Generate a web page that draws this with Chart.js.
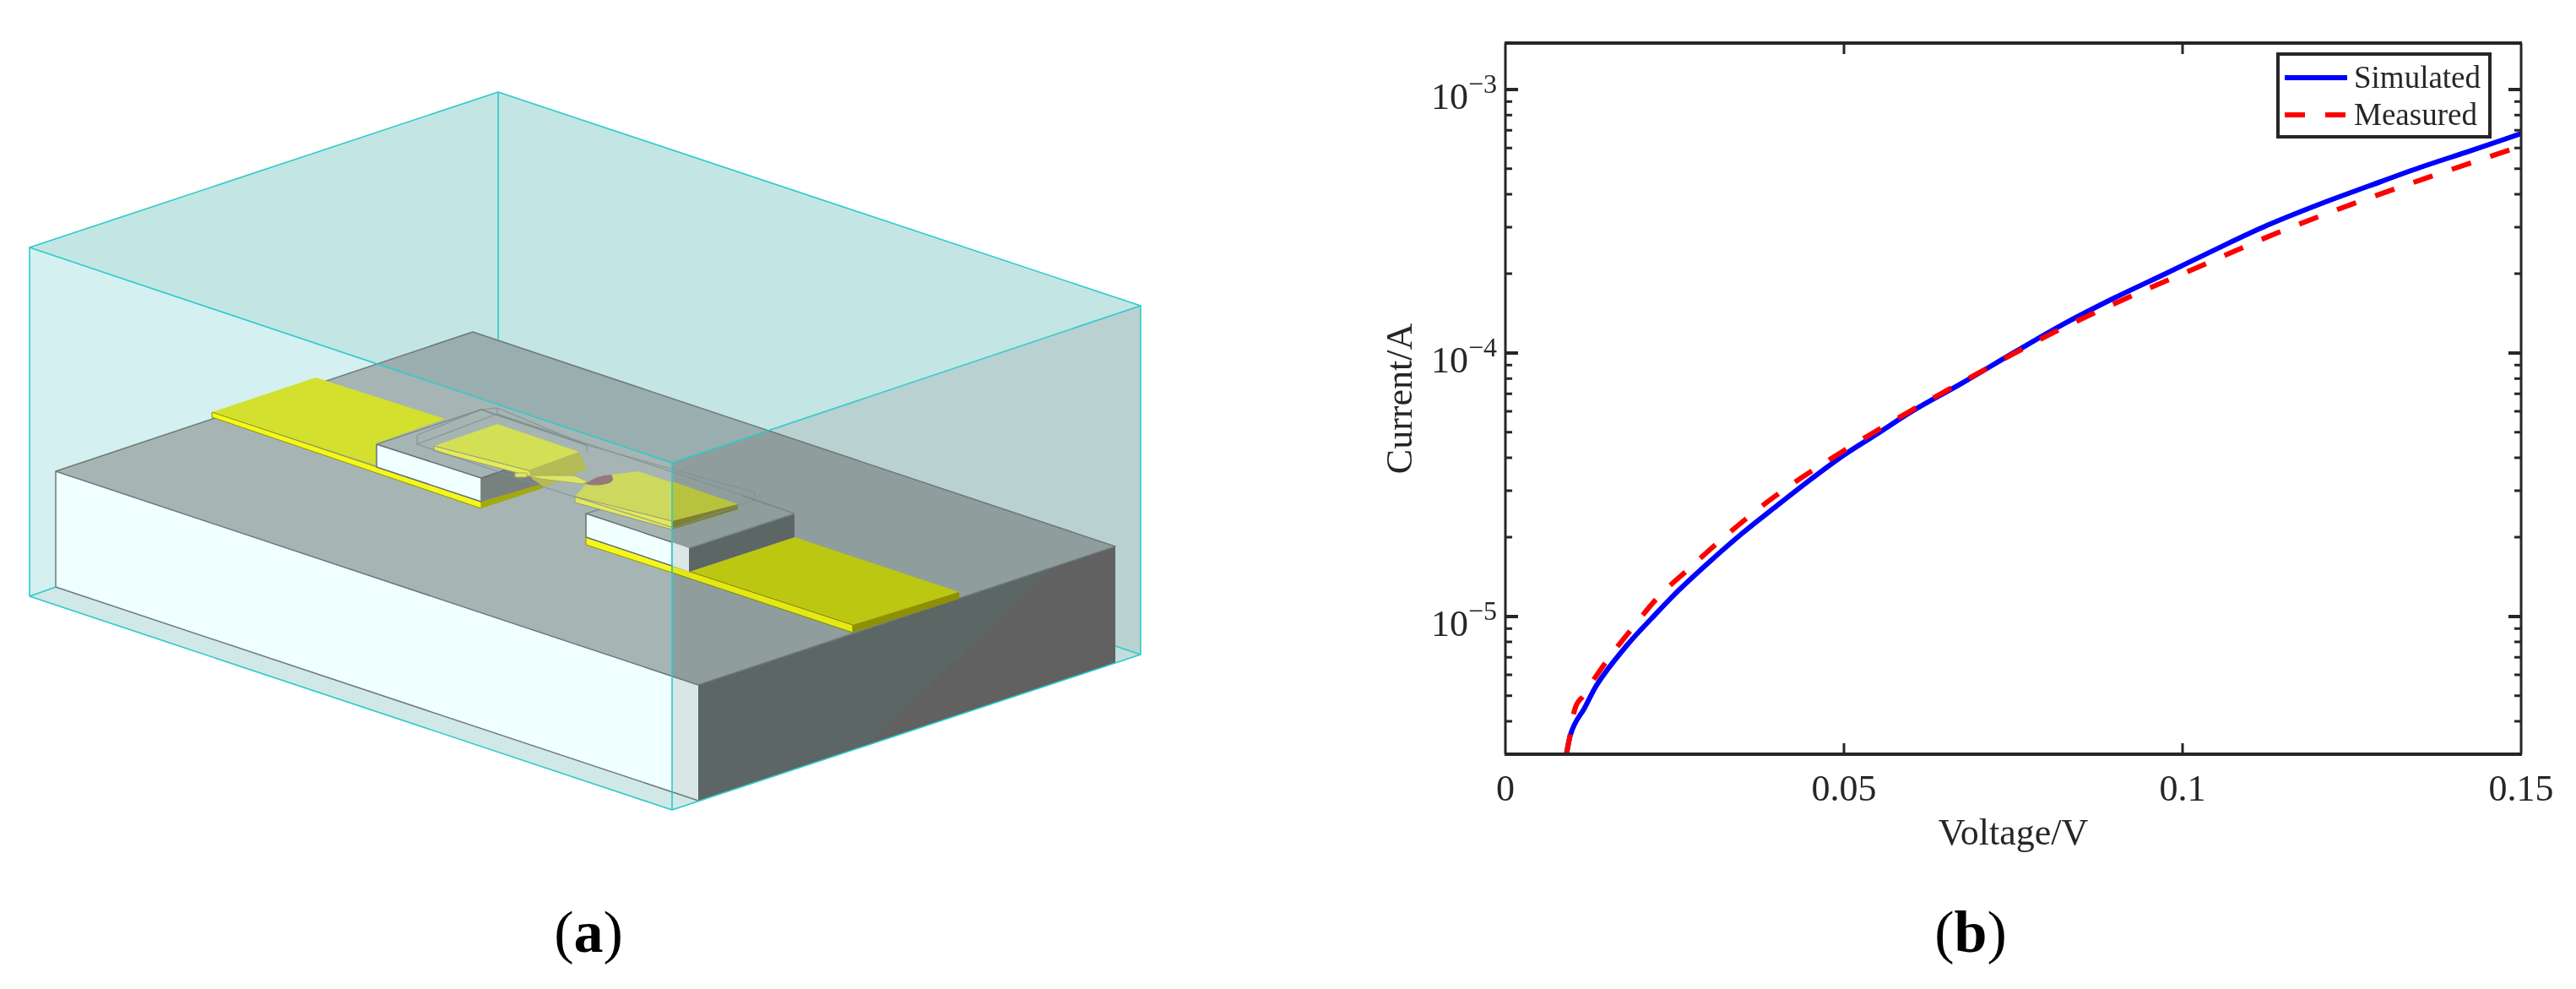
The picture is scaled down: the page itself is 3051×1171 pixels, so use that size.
<!DOCTYPE html>
<html>
<head>
<meta charset="utf-8">
<title>Simulated and measured I-V curve</title>
<script src="https://cdn.jsdelivr.net/npm/chart.js@4"></script>
<style>
  html, body { margin: 0; padding: 0; background: #fff; overflow: hidden; }
  #page { position: relative; width: 3051px; height: 1171px; }
  #model { position: absolute; left: 0; top: 0; }
  #chartBox { position: absolute; left: 1600px; top: 0; width: 1451px; height: 1171px; }
  .panel { position: absolute; font: 70px/1 "Liberation Serif", serif; color: #000; transform: translateX(-50%); }
</style>
</head>
<body>
<div id="page">
  <!-- panel (a): device model, plain illustration -->
  <svg id="model" width="1500" height="1000" stroke-linejoin="round">
    <!-- air box -->
    <polygon points="590,109 35,293 796,548 1351,362" fill="#c3e5e4"/>
    <polygon points="35,293 796,548 796,959 35,706" fill="#d5f0f0"/>
    <polygon points="796,548 1351,362 1351,775 796,959" fill="#b9d1d1"/>
    <polygon points="66,695 827,948 796,959 35,706" fill="#d0e8e8"/>
    <polygon points="1321,785 1351,775 1321,765" fill="#c3dcdc"/>

    <!-- substrate -->
    <polygon points="446,431 560,393 910,510 796,548" fill="#9aaeb0"/>
    <polygon points="66,558 446,431 796,548 796,801" fill="#a6b5b3"/>
    <polygon points="796,548 910,510 1321,647 827,811 796,801" fill="#8f9e9c"/>
    <polygon points="66,558 796,801 796,938 66,695" fill="#f0ffff"/>
    <polygon points="796,801 827,811 827,948 796,938" fill="#d8e6e6"/>
    <polygon points="827,811 1321,647 1321,785 827,948" fill="#5b6665"/>
    <polygon points="1250,671 1321,647 1321,785 1027,882" fill="#616161"/>
    <polyline points="66,695 66,558 560,393 1321,647 827,811 66,558" fill="none" stroke="#6d7a78" stroke-width="1.5"/>
    <line x1="66" y1="695" x2="827" y2="948" stroke="#6d7a78" stroke-width="1.5"/>

    <!-- left gold line and pedestal -->
    <polygon points="251,488 374,447 527,496 446,525 446,551" fill="#d3e02e"/>
    <polygon points="251,488 570,594 570,602 251,494" fill="#f4f71e" stroke="#8f9400" stroke-width="1"/>
    <polygon points="570,594 643,572 643,578 570,602" fill="#a5a80e"/>
    <polygon points="446,526 570,566 570,594 446,553" fill="#f0ffff" stroke="#66716f" stroke-width="1.5"/>
    <polygon points="570,566 608,553 645,566 645,572 570,594" fill="#77827f"/>
    <polyline points="446,526 570,485 695,527" fill="none" stroke="#7c8a8a" stroke-width="1.5"/>
    <line x1="570" y1="566" x2="608" y2="553" stroke="#66716f" stroke-width="1.5"/>

    <!-- right gold line and pedestal -->
    <polygon points="817,677 941,636 1136,701 1010,740" fill="#bcc712"/>
    <polygon points="1010,740 1136,701 1136,709 1010,749" fill="#8f9000"/>
    <polygon points="694,636 796,670 796,678 694,645" fill="#f4f71e" stroke="#8f9400" stroke-width="1"/>
    <polygon points="796,670 1010,740 1010,749 796,678" fill="#e3e816" stroke="#808600" stroke-width="1"/>
    <polygon points="694,608 796,642 796,670 694,636" fill="#f0ffff" stroke="#66716f" stroke-width="1.5"/>
    <polygon points="796,642 816,649 816,677 796,670" fill="#dde6e6"/>
    <polygon points="816,649 941,608 941,636 816,677" fill="#5b6665"/>
    <polyline points="694,608 714,602" fill="none" stroke="#7c8a8a" stroke-width="1.5"/>
    <polyline points="816,649 941,608 880,587" fill="none" stroke="#78878a" stroke-width="1.5"/>

    <!-- electrodes and channel -->
    <polygon points="514,528 589,502 686,535 626,557" fill="#d3df55"/>
    <polygon points="514,528 626,557 632,565 514,534" fill="#e6ea55" stroke="#8d9a80" stroke-width="1"/>
    <polygon points="626,557 686,535 695,555 645,577 630,567" fill="#b5bb55"/>
    <polygon points="610,560 624,560 624,565 610,565" fill="#dfe66a" stroke="#a9ae55" stroke-width="1"/>
    <polygon points="624,563 680,563 696,570 690,573 640,567" fill="#dfe46a" stroke="#a9ae55" stroke-width="1"/>
    <polygon points="681,588 695,572 725,562 756,558 874,597 796,617 796,627" fill="#cdd85f"/>
    <polygon points="796,570 874,597 796,617" fill="#b9c23f"/>
    <polygon points="796,617 874,597 874,603 796,627" fill="#7d8030"/>
    <polygon points="681,588 796,617 796,627 681,595" fill="#e4e85a" stroke="#8d9a80" stroke-width="1"/>
    <path d="M693,573 Q708,562 724,562 Q730,570 718,573 Q705,576 693,573 Z" fill="#96787c"/>

    <!-- dielectric outline -->
    <g fill="none" stroke="#7e8f95" stroke-width="1.2" opacity="0.8">
      <polyline points="494,515 570,485 589,483 695,527 695,535"/>
      <polyline points="494,515 494,526 645,577 798,625 894,592 894,583"/>
      <line x1="589" y1="483" x2="589" y2="490"/>
      <line x1="494" y1="526" x2="589" y2="490"/>
      <line x1="589" y1="490" x2="890" y2="590"/>
      <line x1="695" y1="527" x2="894" y2="583"/>
    </g>

    <!-- air box edges -->
    <g fill="none" stroke="#2ccbcb" stroke-width="1.6">
      <polygon points="590,109 35,293 796,548 1351,362"/>
      <line x1="590" y1="109" x2="590" y2="402"/>
      <line x1="35" y1="293" x2="35" y2="706"/>
      <line x1="796" y1="548" x2="796" y2="959"/>
      <line x1="1351" y1="362" x2="1351" y2="775"/>
      <polyline points="35,706 796,959 1351,775"/>
      <line x1="35" y1="706" x2="66" y2="695"/>
      <line x1="1321" y1="765" x2="1351" y2="775"/>
    </g>
  </svg>
  <div class="panel" style="left:697px; top:1069px;">(<b>a</b>)</div>
  <div class="panel" style="left:2334px; top:1069px;">(<b>b</b>)</div>
  <div id="chartBox"><canvas id="myChart" width="1451" height="1171"></canvas></div>
</div>

<script>
const ctx = document.getElementById('myChart').getContext('2d');

const FONT = '"Liberation Serif", serif';
const INK = '#262626';

const simVoltage = [0.009, 0.0096, 0.0117, 0.0135, 0.018, 0.0217, 0.0255, 0.03, 0.035, 0.04, 0.045, 0.05, 0.055, 0.06, 0.0675, 0.075, 0.0825, 0.09, 0.0975, 0.105, 0.1125, 0.12, 0.1275, 0.135, 0.1425, 0.15];
const simCurrent = [3e-6, 3.55e-6, 4.5e-6, 5.5e-6, 7.8e-6, 9.9e-6, 1.25e-5, 1.6e-5, 2.07e-5, 2.62e-5, 3.3e-5, 4.1e-5, 4.95e-5, 6e-5, 7.7e-5, 1e-4, 1.29e-4, 1.62e-4, 2e-4, 2.48e-4, 3.05e-4, 3.65e-4, 4.3e-4, 5.05e-4, 5.85e-4, 6.8e-4];

const measVoltage = [0.009, 0.0096, 0.0102, 0.0115, 0.0149, 0.0187, 0.0225, 0.027, 0.0314, 0.0395, 0.0496, 0.0597, 0.0706, 0.0811, 0.0914, 0.1029, 0.1139, 0.1254, 0.1364, 0.15];
const measCurrent = [3e-6, 3.6e-6, 4.4e-6, 5e-6, 6.75e-6, 9e-6, 1.18e-5, 1.51e-5, 1.91e-5, 2.82e-5, 4.2e-5, 6e-5, 8.6e-5, 1.2e-4, 1.6e-4, 2.15e-4, 2.85e-4, 3.7e-4, 4.65e-4, 6.1e-4];

const xTicks = [0, 0.05, 0.1, 0.15];
const xTickLabels = ['0', '0.05', '0.1', '0.15'];
const yMajorTicks = [1e-5, 1e-4, 1e-3];
const yMajorExponents = ['-5', '-4', '-3'];
const yMinorTicks = [4e-6, 5e-6, 6e-6, 7e-6, 8e-6, 9e-6,
    2e-5, 3e-5, 4e-5, 5e-5, 6e-5, 7e-5, 8e-5, 9e-5,
    2e-4, 3e-4, 4e-4, 5e-4, 6e-4, 7e-4, 8e-4, 9e-4];

const toPoints = (xs, ys) => xs.map((x, i) => ({ x, y: ys[i] }));

const data = {
    datasets: [
        {
            label: 'Simulated',
            data: toPoints(simVoltage, simCurrent),
            borderColor: '#0000ff',
            borderWidth: 6,
            cubicInterpolationMode: 'monotone',
            pointRadius: 0,
            order: 2,
        },
        {
            label: 'Measured',
            data: toPoints(measVoltage, measCurrent),
            borderColor: '#ff0000',
            borderWidth: 6,
            borderDash: [24, 24],
            cubicInterpolationMode: 'monotone',
            pointRadius: 0,
            order: 1,
        },
    ],
};

// inward ticks, frame, 10^n labels and the legend box
const matlabAxes = {
    id: 'matlabAxes',
    afterDatasetsDraw(chart) {
        const c = chart.ctx;
        const { left, right, top, bottom } = chart.chartArea;
        const xScale = chart.scales.x;
        const yScale = chart.scales.y;

        c.save();
        c.strokeStyle = INK;
        c.lineCap = 'butt';

        c.lineWidth = 3;
        xTicks.slice(1, -1).forEach((v) => {
            const px = xScale.getPixelForValue(v);
            c.beginPath();
            c.moveTo(px, bottom);
            c.lineTo(px, bottom - 13);
            c.moveTo(px, top);
            c.lineTo(px, top + 13);
            c.stroke();
        });
        const yTick = (v, len) => {
            const py = yScale.getPixelForValue(v);
            c.beginPath();
            c.moveTo(left, py);
            c.lineTo(left + len, py);
            c.moveTo(right, py);
            c.lineTo(right - len, py);
            c.stroke();
        };
        c.lineWidth = 3;
        yMinorTicks.forEach((v) => yTick(v, 8));
        c.lineWidth = 4;
        yMajorTicks.forEach((v) => yTick(v, 15));

        // frame
        c.lineWidth = 3;
        c.beginPath();
        c.moveTo(left, top);
        c.lineTo(left, bottom);
        c.moveTo(right, top);
        c.lineTo(right, bottom);
        c.stroke();
        c.lineWidth = 4;
        c.beginPath();
        c.moveTo(left - 1, top);
        c.lineTo(right + 1, top);
        c.moveTo(left - 1, bottom);
        c.lineTo(right + 1, bottom);
        c.stroke();

        // y tick labels
        c.fillStyle = INK;
        c.textBaseline = 'alphabetic';
        yMajorTicks.forEach((v, i) => {
            const py = yScale.getPixelForValue(v);
            c.textAlign = 'right';
            c.font = '44px ' + FONT;
            c.fillText('10', left - 44, py + 23);
            c.textAlign = 'left';
            c.font = '32px ' + FONT;
            c.fillText(yMajorExponents[i].replace('-', '\u2212'), left - 44, py + 4);
        });

        // legend
        const boxL = left + 915, boxR = left + 1166, boxT = 64, boxB = 162;
        c.fillStyle = '#fff';
        c.fillRect(boxL, boxT, boxR - boxL, boxB - boxT);
        c.lineWidth = 4;
        c.strokeRect(boxL, boxT, boxR - boxL, boxB - boxT);
        c.textAlign = 'left';
        c.textBaseline = 'middle';
        c.font = '37px ' + FONT;
        chart.data.datasets.forEach((ds, i) => {
            const rowY = boxT + 28 + i * 44;
            c.strokeStyle = ds.borderColor;
            c.lineWidth = ds.borderWidth;
            c.setLineDash(ds.borderDash || []);
            c.beginPath();
            c.moveTo(boxL + 8, rowY);
            c.lineTo(boxL + 82, rowY);
            c.stroke();
            c.setLineDash([]);
            c.fillStyle = INK;
            c.fillText(ds.label, boxL + 90, rowY + 2);
        });
        c.restore();
    },
};

const config = {
    type: 'line',
    data: data,
    plugins: [matlabAxes],
    options: {
        responsive: false,
        animation: false,
        layout: { padding: { left: 34, right: 65, top: 51, bottom: 156 } },
        plugins: { legend: { display: false }, tooltip: { enabled: false } },
        scales: {
            x: {
                type: 'linear',
                min: 0,
                max: 0.15,
                grid: { display: false },
                border: { display: false },
                afterBuildTicks: (scale) => { scale.ticks = xTicks.map((value) => ({ value })); },
                afterFit: (scale) => { scale.height = 122; },
                ticks: {
                    color: INK,
                    padding: 9,
                    maxRotation: 0,
                    autoSkip: false,
                    font: { family: FONT, size: 44 },
                    callback: (value) => xTickLabels[xTicks.indexOf(value)],
                },
                title: {
                    display: true,
                    text: 'Voltage/V',
                    color: INK,
                    padding: 0,
                    font: { family: FONT, size: 44 },
                },
            },
            y: {
                type: 'logarithmic',
                min: 3e-6,
                max: 1.5e-3,
                grid: { display: false },
                border: { display: false },
                afterFit: (scale) => { scale.width = 149; },
                ticks: { callback: () => '' },
                title: {
                    display: true,
                    text: 'Current/A',
                    color: INK,
                    padding: 0,
                    font: { family: FONT, size: 44 },
                },
            },
        },
    },
};

const myChart = new Chart(ctx, config);
</script>
</body>
</html>
